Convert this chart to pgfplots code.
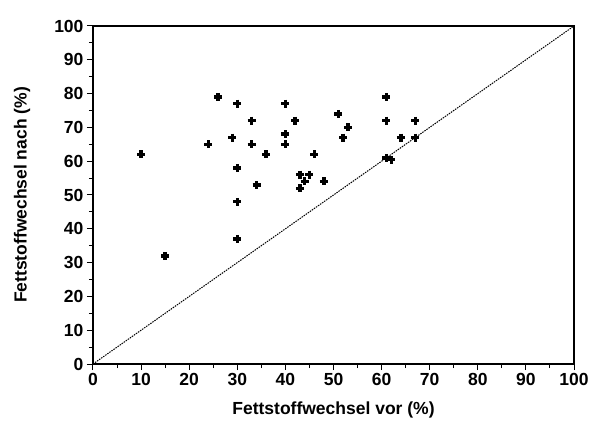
\documentclass[border=0pt]{standalone}
\usepackage{fontspec}
\setmainfont{Liberation Sans}
\usepackage{pgfplots}
\pgfplotsset{compat=1.18}
\begin{document}
\begin{tikzpicture}
\begin{axis}[
scale only axis,
width=481pt,
height=338pt,
xmin=0, xmax=100,
ymin=0, ymax=100,
xtick={0,10,...,100},
ytick={0,10,...,100},
minor xtick={5,15,...,95},
minor ytick={5,15,...,95},
xtick pos=left,
ytick pos=left,
tick align=outside,
major tick length=6pt,
minor tick length=4pt,
tick style={black, line width=1pt},
axis line style={black, line width=1.3pt},
/pgf/number format/assume math mode=true,
tick label style={font=\fontsize{17.5}{19}\selectfont\bfseries},
label style={font=\fontsize{17.5}{19}\selectfont\bfseries},
xlabel={Fettstoffwechsel vor (\%)},
ylabel={Fettstoffwechsel nach (\%)},
xlabel style={at={(axis description cs:0.5,0)}, anchor=center, yshift=-46pt},
ylabel style={at={(axis description cs:0,0.5)}, anchor=center, yshift=71pt},
]
\addplot[black, dash pattern=on 1.5pt off 1pt, line width=1pt] coordinates {(0,0) (100,100)};
\addplot[only marks, mark=+, mark size=4pt, line width=3.4pt, black] coordinates {
(10,62)
(15,32)
(24,65)
(26,79)
(29,67)
(30,77)
(30,58)
(30,48)
(30,37)
(33,72)
(33,65)
(34,53)
(36,62)
(40,77)
(40,68)
(40,65)
(42,72)
(43,56)
(45,56)
(44,54)
(43,52)
(46,62)
(48,54)
(51,74)
(52,67)
(53,70)
(61,79)
(61,72)
(61,61)
(62,60.5)
(64,67)
(67,72)
(67,67)
};
\end{axis}
\path (current axis.south west) +(-93pt,-69pt);
\path (current axis.north east) +(19pt,26pt);
\end{tikzpicture}
\end{document}
